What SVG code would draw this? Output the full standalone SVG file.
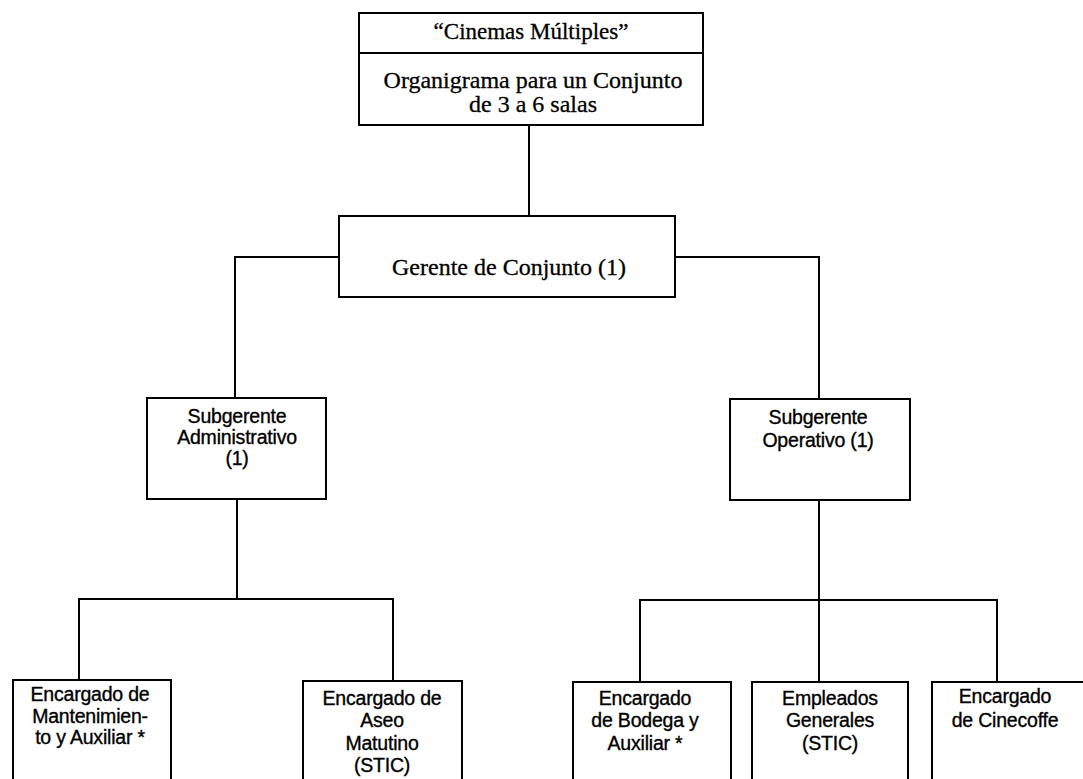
<svg xmlns="http://www.w3.org/2000/svg" width="1083" height="779" viewBox="0 0 1083 779">
  <style>
    .box { fill: #ffffff; stroke: #000000; stroke-width: 2; }
    .wire { fill: none; stroke: #000000; stroke-width: 2; }
    .serif { font-family: "Liberation Serif", "Times New Roman", serif; fill: #000000; stroke: #000000; stroke-width: 0.3; text-anchor: middle; }
    .sans { font-family: "Liberation Sans", Arial, sans-serif; font-size: 19.5px; fill: #000000; stroke: #000000; stroke-width: 0.35; text-anchor: middle; letter-spacing: -0.2px; }
  </style>
  <rect width="1083" height="779" fill="#ffffff"/>

  <!-- reporting lines -->
  <g id="connectors">
    <path class="wire" d="M529,125 V216"/>
    <path class="wire" d="M339,257 H235 V398"/>
    <path class="wire" d="M675,257 H819 V399"/>
    <path class="wire" d="M237,499 V599"/>
    <path class="wire" d="M79,680 V599 H393 V681"/>
    <path class="wire" d="M819,500 V682"/>
    <path class="wire" d="M640,682 V600 H997 V682"/>
  </g>

  <g id="title">
    <rect class="box" x="359" y="13" width="344" height="112"/>
    <line class="wire" x1="359" y1="53" x2="703" y2="53"/>
    <text class="serif" x="531" y="39" font-size="23">“Cinemas Múltiples”</text>
    <text class="serif" x="533" y="88" font-size="24">Organigrama para un  Conjunto</text>
    <text class="serif" x="533" y="112" font-size="24">de 3 a 6 salas</text>
  </g>

  <g id="gerente">
    <rect class="box" x="339" y="216" width="336" height="81"/>
    <text class="serif" x="509" y="275" font-size="24">Gerente de Conjunto (1)</text>
  </g>

  <g id="sub-admin">
    <rect class="box" x="147" y="398" width="179" height="101"/>
    <text class="sans" x="237" y="423">Subgerente</text>
    <text class="sans" x="237" y="444">Administrativo</text>
    <text class="sans" x="237" y="465">(1)</text>
  </g>

  <g id="sub-operativo">
    <rect class="box" x="730" y="399" width="180" height="101"/>
    <text class="sans" x="818" y="424">Subgerente</text>
    <text class="sans" x="818" y="447">Operativo (1)</text>
  </g>

  <g id="mantenimiento">
    <rect class="box" x="13" y="680" width="158" height="130"/>
    <text class="sans" x="90" y="701">Encargado de</text>
    <text class="sans" x="90" y="723">Mantenimien-</text>
    <text class="sans" x="90" y="744">to y Auxiliar *</text>
  </g>

  <g id="aseo">
    <rect class="box" x="303" y="681" width="159" height="130"/>
    <text class="sans" x="382" y="705">Encargado de</text>
    <text class="sans" x="382" y="727">Aseo</text>
    <text class="sans" x="382" y="750">Matutino</text>
    <text class="sans" x="382" y="772">(STIC)</text>
  </g>

  <g id="bodega">
    <rect class="box" x="573" y="682" width="158" height="130"/>
    <text class="sans" x="645" y="705">Encargado</text>
    <text class="sans" x="645" y="727">de Bodega y</text>
    <text class="sans" x="645" y="750">Auxiliar *</text>
  </g>

  <g id="empleados">
    <rect class="box" x="752" y="682" width="156" height="130"/>
    <text class="sans" x="830" y="705">Empleados</text>
    <text class="sans" x="830" y="727">Generales</text>
    <text class="sans" x="830" y="750">(STIC)</text>
  </g>

  <!-- this box runs off the right edge of the sheet -->
  <g id="cinecoffe">
    <rect class="box" x="932" y="682" width="170" height="130"/>
    <text class="sans" x="1005" y="703">Encargado</text>
    <text class="sans" x="1005" y="727">de Cinecoffe</text>
  </g>
</svg>
